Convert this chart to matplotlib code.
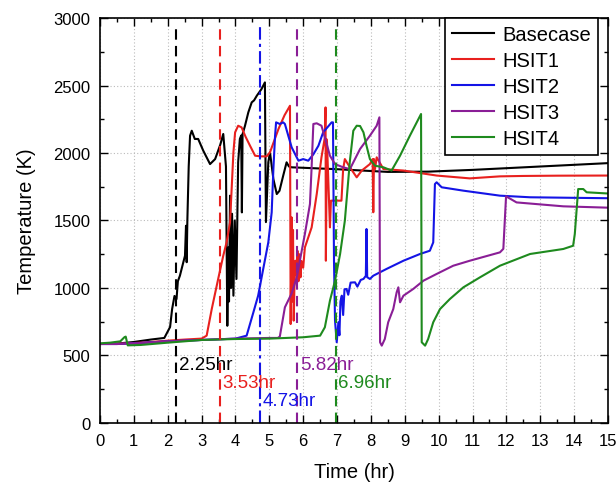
import matplotlib
matplotlib.use("Agg")
import matplotlib.pyplot as plt
from matplotlib.ticker import MultipleLocator

plt.rcParams["font.family"] = ["Liberation Sans", "DejaVu Sans"]

# ---- data (time in hr, temperature in K) ----
base_t = [0, 0.5, 1.0, 1.5, 1.9, 2.07, 2.13, 2.2, 2.26, 2.3, 2.36, 2.45, 2.51, 2.54,
          2.56, 2.58, 2.62, 2.66, 2.71, 2.80, 2.90, 3.05, 3.25, 3.40, 3.55, 3.64,
          3.72, 3.76, 3.79, 3.81, 3.84, 3.87, 3.90, 3.94, 3.98, 4.03, 4.06, 4.08,
          4.13, 4.17, 4.19, 4.21, 4.28, 4.38, 4.48, 4.55, 4.63, 4.77, 4.87, 4.90,
          4.97, 5.02, 5.12, 5.22, 5.30, 5.41, 5.51, 5.58, 5.66, 7.0, 8.5, 9.7,
          11.0, 13.0, 15.0]
base_T = [585, 588, 600, 618, 630, 711, 844, 941, 918, 1050, 1091, 1180, 1239, 1461,
          1191, 1500, 1900, 2128, 2165, 2104, 2104, 2017, 1918, 1955, 2060, 2141,
          1900, 720, 1300, 900, 1684, 1000, 1550, 943, 1500, 1067, 1600, 1931,
          2104, 2130, 1560, 2140, 2200, 2301, 2375, 2390, 2424, 2474, 2523, 1488,
          1931, 2005, 1807, 1696, 1720, 1832, 1931, 1900, 1894, 1880, 1860, 1862,
          1875, 1900, 1925]

hsit1_t = [0, 0.5, 1.0, 1.5, 2.0, 2.5, 3.0, 3.15, 3.30, 3.49, 3.64, 3.74, 3.84, 3.94,
           3.99, 4.08, 4.18, 4.30, 4.43, 4.58, 4.75, 4.92, 5.02, 5.27, 5.45, 5.61,
           5.63, 5.66, 5.68, 5.70, 5.72, 5.74, 5.77, 5.80, 5.83, 5.86, 5.89, 5.92,
           5.95, 6.00, 6.05, 6.25, 6.40, 6.54, 6.64, 6.66, 6.67, 6.70, 6.79, 6.82,
           7.13, 7.18, 7.23, 7.38, 7.58, 7.73, 7.97, 8.05, 8.07, 8.09, 8.12, 8.17,
           8.37, 8.96, 9.94, 10.92, 11.81, 12.5, 13.5, 15.0]
hsit1_T = [585, 588, 592, 600, 610, 618, 625, 647, 844, 1067, 1239, 1340, 1486, 2005,
           2153, 2202, 2190, 2120, 2054, 1980, 1975, 1975, 2005, 2178, 2280, 2350,
           733, 1523, 900, 1430, 758, 1000, 1202, 1100, 1276, 1050, 1250, 1079,
           1200, 1150, 1300, 1449, 1696, 1968, 2116, 2338, 1202, 2100, 1449, 1647,
           1647, 1881, 1955, 1894, 1820, 1870, 1918, 1955, 1561, 1955, 1880, 1968,
           1881, 1870, 1833, 1812, 1827, 1830, 1832, 1833]

hsit2_t = [0, 0.5, 1.0, 2.0, 3.0, 4.0, 4.33, 4.53, 4.67, 4.82, 4.97, 5.07, 5.12, 5.17,
           5.20, 5.31, 5.41, 5.46, 5.56, 5.66, 5.86, 6.00, 6.15, 6.30, 6.45, 6.59,
           6.84, 6.88, 6.91, 6.94, 6.99, 7.04, 7.07, 7.10, 7.14, 7.18, 7.22, 7.28,
           7.33, 7.40, 7.53, 7.60, 7.70, 7.78, 7.85, 7.87, 7.89, 7.97, 8.07, 8.46,
           8.96, 9.45, 9.74, 9.84, 9.89, 9.94, 10.09, 10.73, 11.81, 12.70, 14.0, 15.0]
hsit2_T = [585, 585, 590, 605, 615, 625, 647, 820, 943, 1141, 1338, 1560, 1881, 2128,
           2227, 2215, 2227, 2215, 2128, 2042, 1943, 1955, 1943, 1990, 2054, 2153,
           2227, 2227, 1200, 758, 598, 746, 650, 900, 943, 800, 990, 993, 950,
           1040, 1042, 1010, 1060, 1067, 1090, 1437, 1080, 1067, 1091, 1141, 1202,
           1252, 1276, 1338, 1770, 1783, 1746, 1721, 1684, 1672, 1668, 1665]

hsit3_t = [0, 0.5, 1.0, 2.0, 3.0, 4.0, 5.0, 5.25, 5.31, 5.46, 5.66, 5.81, 6.05, 6.20,
           6.25, 6.30, 6.40, 6.54, 6.64, 6.79, 6.94, 7.18, 7.38, 7.68, 7.97, 8.17,
           8.25, 8.27, 8.32, 8.41, 8.51, 8.66, 8.76, 8.81, 8.86, 8.96, 9.25, 9.55,
           9.94, 10.43, 10.92, 11.81, 11.91, 11.99, 12.3, 13.68, 15.0]
hsit3_T = [585, 585, 590, 605, 615, 625, 630, 630, 640, 857, 960, 1079, 1400, 1622,
           1900, 2215, 2220, 2202, 2116, 1980, 1918, 1894, 1881, 2030, 2128, 2202,
           2264, 598, 573, 622, 746, 844, 968, 1005, 894, 943, 993, 1054, 1104, 1165,
           1202, 1264, 1290, 1679, 1634, 1605, 1595]

hsit4_t = [0, 0.3, 0.6, 0.72, 0.76, 0.82, 1.2, 2.0, 3.0, 4.0, 5.0, 6.0, 6.5, 6.64,
           6.79, 6.94, 7.09, 7.23, 7.38, 7.48, 7.58, 7.68, 7.78, 7.87, 7.97, 8.12,
           8.37, 8.61, 8.86, 9.15, 9.48, 9.50, 9.60, 9.69, 9.84, 10.04, 10.33, 10.73,
           11.22, 11.81, 12.70, 13.68, 13.97, 14.02, 14.12, 14.27, 14.37, 15.0]
hsit4_T = [590, 595, 605, 635, 640, 575, 578, 595, 615, 622, 625, 635, 647, 709,
           906, 1054, 1252, 1498, 1943, 2165, 2202, 2200, 2153, 2054, 1955, 1906,
           1894, 1870, 1980, 2128, 2289, 598, 573, 622, 746, 844, 918, 1005, 1079,
           1165, 1252, 1289, 1313, 1400, 1733, 1733, 1709, 1700]

series = [
    ("Basecase", base_t, base_T, "black"),
    ("HSIT1", hsit1_t, hsit1_T, "#E8201E"),
    ("HSIT2", hsit2_t, hsit2_T, "#1414E6"),
    ("HSIT3", hsit3_t, hsit3_T, "#8A1E96"),
    ("HSIT4", hsit4_t, hsit4_T, "#1E8A1E"),
]

# onset markers: time, colour, linestyle, label height (K)
marker_times = [2.25, 3.53, 4.73, 5.82, 6.96]
marker_colors = ["black", "#E8201E", "#1414E6", "#8A1E96", "#1E8A1E"]
marker_styles = [(0, (5, 3)), (0, (5, 3)), (0, (6, 2, 1.5, 2)), (0, (5, 3)), (0, (5, 3))]
marker_label_T = [432, 301, 165, 430, 301]

fig = plt.figure(figsize=(6.16, 4.85), dpi=100)
ax = fig.add_axes([0.1623, 0.1258, 0.8247, 0.835])

for name, t, T, color in series:
    ax.plot(t, T, color=color, linewidth=1.5, label=name)

for t0, color, ls, ty in zip(marker_times, marker_colors, marker_styles, marker_label_T):
    ax.plot([t0, t0], [0, 2940], color=color, linestyle=ls, linewidth=1.5)
    ax.text(t0 + 0.08, ty, f"{t0:.2f}hr", color=color, fontsize=13.5,
            ha="left", va="center")

ax.set_xlim(0, 15)
ax.set_ylim(0, 3000)
ax.xaxis.set_major_locator(MultipleLocator(1))
ax.xaxis.set_minor_locator(MultipleLocator(0.5))
ax.yaxis.set_major_locator(MultipleLocator(500))
ax.yaxis.set_minor_locator(MultipleLocator(250))
ax.tick_params(which="both", direction="in", top=True, right=True, labelsize=12)
ax.tick_params(which="major", length=6, width=1.0, pad=7)
ax.tick_params(which="minor", length=3, width=1.0)
ax.grid(True, which="major", linestyle=(0, (1, 2)), color="#BBBBBB", linewidth=0.8)
ax.set_axisbelow(True)
for spine in ax.spines.values():
    spine.set_linewidth(1.2)

ax.set_xlabel("Time (hr)", fontsize=14.5, labelpad=10)
ax.set_ylabel("Temperature (K)", fontsize=14.5, labelpad=12)

leg = ax.legend(loc="upper right", bbox_to_anchor=(0.98, 1.0), borderaxespad=0,
                fontsize=14.5, frameon=True, fancybox=False, handlelength=2.1,
                labelspacing=0.35, handletextpad=0.4, borderpad=0.35)
leg.get_frame().set_edgecolor("black")
leg.get_frame().set_linewidth(1.2)
leg.get_frame().set_alpha(1)

fig.savefig("out.png", dpi=100, facecolor="white")
